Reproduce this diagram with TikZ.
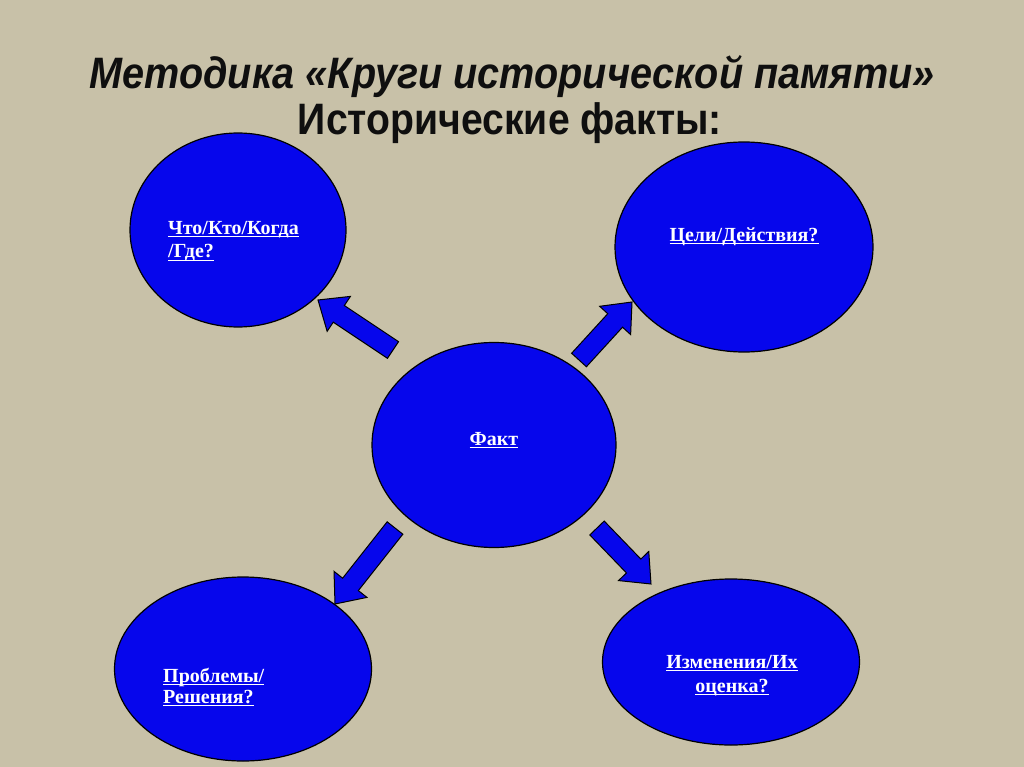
\documentclass[tikz,border=0pt]{standalone}
\usepackage{fontspec}
\usepackage{graphicx}
\setmainfont{Liberation Serif}
\newfontfamily\titlefont{Liberation Sans}
\usetikzlibrary{shapes.geometric,calc}
\definecolor{bgcol}{RGB}{200,193,168}
\definecolor{blobblue}{RGB}{6,6,236}
\definecolor{titlecol}{RGB}{15,15,15}
\newcommand\ulx[1]{\setbox0\hbox{#1}\leavevmode\rlap{\rule[-3pt]{\wd0}{1.5pt}}\box0}
\tikzset{
  blob/.style={ellipse, draw=black, line width=1.2pt, fill=blobblue, inner sep=0pt},
  blobtext/.style={text=white, font=\fontsize{20}{22}\selectfont\bfseries, inner sep=0pt},
  titletext/.style={text=titlecol, inner sep=0pt},
  blockarr/.style={draw=black, line width=1pt, fill=blobblue, line join=miter},
}
\newcommand\blockarrow[2]{%
  \coordinate (h#1) at ($(#2)!25pt!(#1)$);
  \draw[blockarr] ($(#1)!10pt!90:(#2)$) -- ($(h#1)!10pt!90:(#2)$) -- ($(h#1)!21pt!90:(#2)$) -- (#2)
     -- ($(h#1)!21pt!-90:(#2)$) -- ($(h#1)!10pt!-90:(#2)$) -- ($(#1)!10pt!-90:(#2)$) -- cycle;}
\begin{document}
\begin{tikzpicture}[x=1pt,y=-1pt]
\fill[bgcol] (0,0) rectangle (1024,767);
\useasboundingbox (0,0) rectangle (1024,767);
% title
\node[titletext, anchor=base] (t1) at (512,89)
  {\resizebox{845pt}{\height}{\titlefont\fontsize{44}{48}\selectfont\bfseries\itshape Методика «Круги исторической памяти»}};
\node[titletext, anchor=base] (t2) at (510,135)
  {\resizebox{424pt}{\height}{\titlefont\fontsize{44}{48}\selectfont\bfseries Исторические факты:}};
% ellipses
\node[blob, minimum width=216pt, minimum height=194pt] (tl) at (238,230) {};
\node[blob, minimum width=258pt, minimum height=210pt] (tr) at (744,247) {};
\node[blob, minimum width=244pt, minimum height=205pt] (c) at (494,445) {};
\node[blob, minimum width=257pt, minimum height=184pt] (bl) at (243,669) {};
\node[blob, minimum width=257pt, minimum height=166pt] (br) at (731,662) {};
% texts
\node[blobtext, anchor=base west] (tla) at (168,234) {\ulx{Что/Кто/Когда}};
\node[blobtext, anchor=base west] (tlb) at (168,258) {\ulx{/Где?}};
\node[blobtext, anchor=base] (tra) at (744,241) {\ulx{Цели/Действия?}};
\node[blobtext, anchor=base] (ca) at (494,445) {\ulx{Факт}};
\node[blobtext, anchor=base west] (bla) at (163,682) {\ulx{Проблемы/}};
\node[blobtext, anchor=base west] (blb) at (163,703) {\ulx{Решения?}};
\node[blobtext, anchor=base] (bra) at (732,668) {\ulx{Изменения/Их}};
\node[blobtext, anchor=base] (brb) at (732,692) {\ulx{оценка?}};
% arrows
\coordinate (a1s) at (393,350); \coordinate (a1e) at (318,300);
\coordinate (a2s) at (579,360); \coordinate (a2e) at (632,302);
\coordinate (a3s) at (395,528); \coordinate (a3e) at (335,604);
\coordinate (a4s) at (597,528); \coordinate (a4e) at (651,584);
\blockarrow{a1s}{a1e}
\blockarrow{a2s}{a2e}
\blockarrow{a3s}{a3e}
\blockarrow{a4s}{a4e}
\end{tikzpicture}
\end{document}
